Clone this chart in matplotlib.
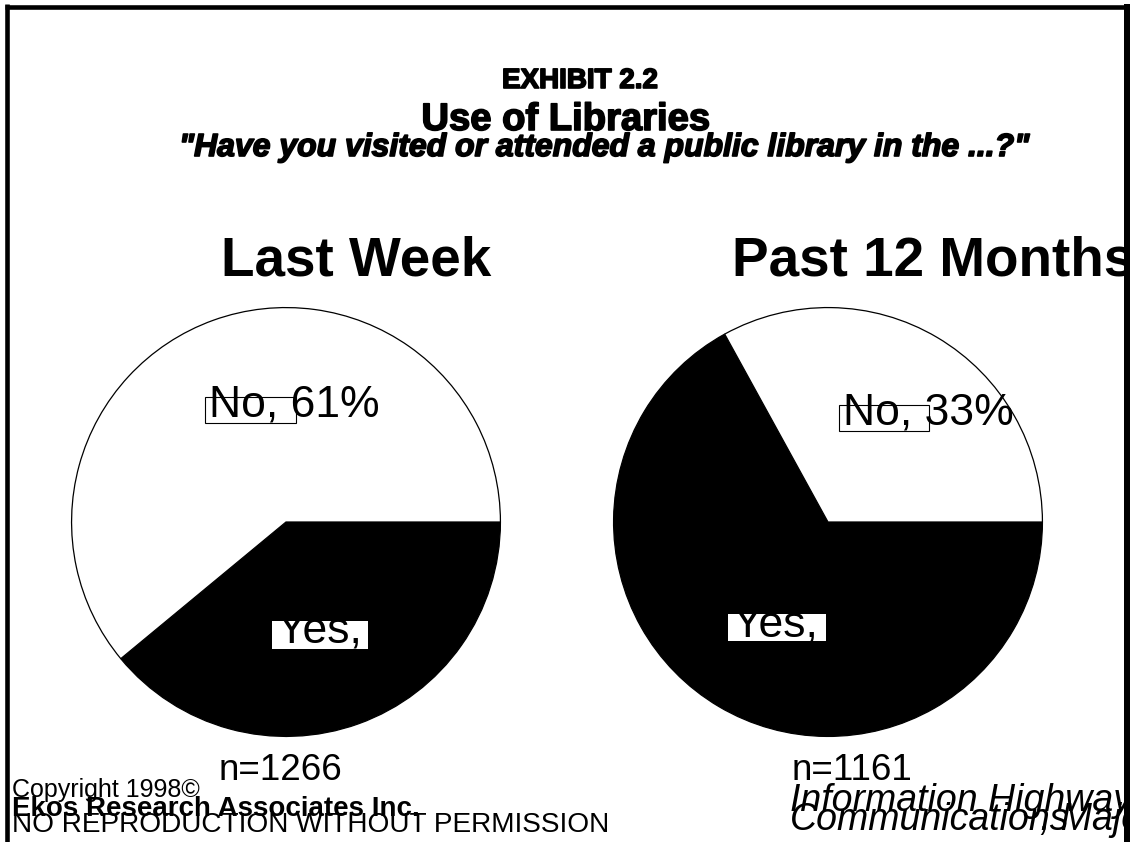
import matplotlib
matplotlib.use("Agg")
import matplotlib.pyplot as plt
import matplotlib.patheffects as pe
from matplotlib.patches import Rectangle

# survey results: share of respondents who visited a public library
periods = ['Last Week', 'Past 12 Months']
yes_pct = [39, 67]
no_pct = [61, 33]
n_resp = [1266, 1161]

W, H = 1130, 842
plt.rcParams['font.family'] = ['Liberation Sans', 'DejaVu Sans']

fig = plt.figure(figsize=(W / 100, H / 100), dpi=100)
fig.patch.set_facecolor('white')

# pie centres and radius in pixels
centres = [(286, 522), (828, 522)]
radius = 215.5

for (cx, cy), yes, no in zip(centres, yes_pct, no_pct):
    ax = fig.add_axes([(cx - radius) / W, (H - cy - radius) / H,
                       2 * radius / W, 2 * radius / H])
    ax.pie([yes, no], colors=['black', 'white'], startangle=0,
           counterclock=False, radius=1,
           wedgeprops=dict(edgecolor='black', linewidth=0.9))
    ax.set_xlim(-1.005, 1.005)
    ax.set_ylim(-1.005, 1.005)
    ax.set_aspect('equal')
    ax.axis('off')

# overlay in pixel coordinates for titles, labels and frame
ov = fig.add_axes([0, 0, 1, 1])
ov.set_xlim(0, W)
ov.set_ylim(H, 0)
ov.axis('off')
ov.patch.set_alpha(0)

heavy = [pe.withStroke(linewidth=1.2, foreground='black')]
ov.text(580, 88, 'EXHIBIT 2.2', ha='center', va='baseline',
        fontsize=20, fontweight='bold', path_effects=heavy)
ov.text(566, 130, 'Use of Libraries', ha='center', va='baseline',
        fontsize=27.5, fontweight='bold', path_effects=heavy)
ov.text(604, 156, '"Have you visited or attended a public library in the ...?"',
        ha='center', va='baseline', fontsize=23, fontweight='bold',
        fontstyle='italic', path_effects=heavy)

# period headings
ov.text(356, 275, periods[0], ha='center', va='baseline',
        fontsize=39.5, fontweight='bold')
ov.text(732, 275, periods[1], ha='left', va='baseline',
        fontsize=39.5, fontweight='bold')

# "No" labels with their small outlined boxes
no_boxes = [(205, 397, 91, 26), (839, 405, 90, 26)]
no_text = [(209, 417), (843, 425)]
for (bx, by, bw, bh), (tx, ty), no in zip(no_boxes, no_text, no_pct):
    ov.add_patch(Rectangle((bx, by), bw, bh, facecolor='white',
                           edgecolor='black', linewidth=0.8))
    ov.text(tx, ty, f'No, {no}%', ha='left', va='baseline', fontsize=32)

# "Yes" labels sit in a white box that clips the text
yes_boxes = [(272, 621, 96, 28), (728, 614, 98, 27)]
for (bx, by, bw, bh), yes in zip(yes_boxes, yes_pct):
    box = Rectangle((bx, by), bw, bh, facecolor='white', edgecolor='none')
    ov.add_patch(box)
    t = ov.text(bx + 5, by + 22, f'Yes, {yes}%', ha='left', va='baseline',
                fontsize=32)
    t.set_clip_path(box)

# sample sizes
for x, n in zip([280, 852], n_resp):
    ov.text(x, 780, f'n={n}', ha='center', va='baseline', fontsize=26.5)

# footer
ov.text(12, 797, 'Copyright 1998©', ha='left', va='baseline', fontsize=18)
ov.text(12, 816, 'Ekos Research Associates Inc.', ha='left', va='baseline',
        fontsize=20, fontweight='bold')
ov.text(12, 832, 'NO REPRODUCTION WITHOUT PERMISSION', ha='left',
        va='baseline', fontsize=20.2)
ov.text(790, 811, 'Information Highway', ha='left', va='baseline',
        fontsize=27, fontstyle='italic')
ov.text(790, 830, 'Communications', ha='left', va='baseline',
        fontsize=27, fontstyle='italic')
ov.text(1040, 830, ', Major', ha='left', va='baseline',
        fontsize=27, fontstyle='italic')

# frame: left, top and right edges
ov.plot([7, 7], [4, H], color='black', linewidth=3.3, solid_capstyle='butt')
ov.plot([5, 1127], [6.5, 6.5], color='black', linewidth=3.3,
        solid_capstyle='butt')
ov.add_patch(Rectangle((1124, 4), 6, H, facecolor='black', edgecolor='none'))

fig.savefig('out.png', dpi=100)
